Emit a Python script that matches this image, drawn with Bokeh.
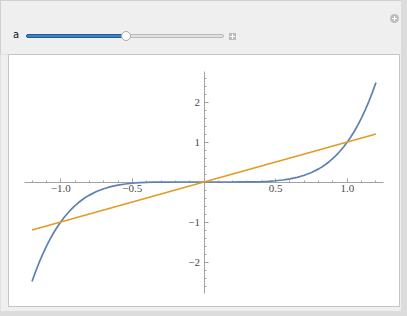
from bokeh.plotting import figure
from bokeh.models import FixedTicker, Div, Range1d, LinearAxis
from bokeh.layouts import column
from bokeh.embed import file_html
from bokeh.resources import INLINE

# ---- data ----
curve_x = [-1.2, -1.175, -1.15, -1.125, -1.1, -1.075, -1.05, -1.025, -1.0, -0.975, -0.95, -0.925,
           -0.9, -0.875, -0.85, -0.825, -0.8, -0.75, -0.7, -0.65, -0.6, -0.55, -0.5, -0.45,
           -0.4, -0.35, -0.3, -0.25, -0.2, -0.1, 0.0, 0.1, 0.2, 0.25, 0.3, 0.35, 0.4, 0.45,
           0.5, 0.55, 0.6, 0.65, 0.7, 0.75, 0.8, 0.825, 0.85, 0.875, 0.9, 0.925, 0.95, 0.975,
           1.0, 1.025, 1.05, 1.075, 1.1, 1.125, 1.15, 1.175, 1.2]
curve_y = [-2.488, -2.240, -2.011, -1.802, -1.611, -1.436, -1.276, -1.131, -1.000, -0.881, -0.774, -0.677,
           -0.590, -0.513, -0.444, -0.382, -0.328, -0.237, -0.168, -0.116, -0.078, -0.050, -0.031, -0.018,
           -0.010, -0.005, -0.002, -0.001, 0.000, 0.000, 0.000, 0.000, 0.000, 0.001, 0.002, 0.005, 0.010, 0.018,
           0.031, 0.050, 0.078, 0.116, 0.168, 0.237, 0.328, 0.382, 0.444, 0.513, 0.590, 0.677, 0.774, 0.881,
           1.000, 1.131, 1.276, 1.436, 1.611, 1.802, 2.011, 2.240, 2.488]
line_x = [-1.2, 1.2]
line_y = [-1.2, 1.2]

x_major = [-1.0, -0.5, 0.5, 1.0]
x_labels = ["\u22121.0", "\u22120.5", "0.5", "1.0"]
x_minor = [-1.2, -1.1, -0.9, -0.8, -0.7, -0.6, -0.4, -0.3, -0.2, -0.1,
           0.1, 0.2, 0.3, 0.4, 0.6, 0.7, 0.8, 0.9, 1.1, 1.2]
y_major = [-2.0, -1.0, 1.0, 2.0]
y_labels = ["\u22122", "\u22121", "1", "2"]
y_minor = [-2.6, -2.4, -2.2, -1.8, -1.6, -1.4, -1.2, -0.8, -0.6, -0.4, -0.2,
           0.2, 0.4, 0.6, 0.8, 1.2, 1.4, 1.6, 1.8, 2.2, 2.4, 2.6]

BLUE = "#5e81b5"
ORANGE = "#e19c24"
AXIS = "#a3a3a3"
PANEL = "#efefef"

p = figure(width=401, height=257,
           x_range=Range1d(-1.364, 1.364), y_range=Range1d(-3.1125, 3.1875),
           output_backend="svg", toolbar_location=None,
           x_axis_location=None, y_axis_location=None,
           min_border_left=8, min_border_right=2, min_border_top=0, min_border_bottom=5,
           border_fill_color=PANEL, background_fill_color="white",
           outline_line_color="#c4c4c4", margin=0)
p.grid.grid_line_color = None

def style(ax, standoff):
    ax.axis_line_color = AXIS
    ax.major_tick_line_color = AXIS
    ax.minor_tick_line_color = AXIS
    ax.major_tick_out = 0
    ax.minor_tick_out = 0
    ax.major_label_text_font = "Liberation Serif"
    ax.major_label_text_font_size = "11px"
    ax.major_label_text_color = "#4a4a4a"
    ax.major_label_standoff = standoff

xa = LinearAxis(fixed_location=0, bounds=(-1.25, 1.25),
                ticker=FixedTicker(ticks=x_major, minor_ticks=x_minor))
xa.major_label_overrides = dict(zip(x_major, x_labels))
style(xa, 3)
xa.major_tick_in = 4
xa.minor_tick_in = 2
p.add_layout(xa, "below")

ya = LinearAxis(fixed_location=0, bounds=(-2.775, 2.775),
                ticker=FixedTicker(ticks=y_major, minor_ticks=y_minor))
ya.major_label_overrides = dict(zip(y_major, y_labels))
style(ya, 4)
ya.major_tick_in = 4
ya.minor_tick_in = 2
p.add_layout(ya, "left")

p.line(curve_x, curve_y, line_color=BLUE, line_width=1.7, level="annotation")
p.line(line_x, line_y, line_color=ORANGE, line_width=1.7, level="annotation")

controls = """
<div style="position:relative;width:401px;height:54px;background:#efefef;
            border-top:1px solid #d0d0d0;border-left:1px solid #d0d0d0;box-sizing:border-box;">
  <span style="position:absolute;left:12px;top:28px;font-family:'DejaVu Sans';font-size:10px;
               line-height:12px;color:#111;">a</span>
  <div style="position:absolute;left:25px;top:33px;width:198px;height:4px;box-sizing:border-box;
              background:#e2e2e2;border:1px solid #b9b9b9;border-radius:2px;"></div>
  <div style="position:absolute;left:25px;top:33px;width:100px;height:4px;box-sizing:border-box;
              background:#3f80c2;border:1px solid #1e5c9c;border-radius:2px;"></div>
  <div style="position:absolute;left:120px;top:30px;width:10px;height:10px;box-sizing:border-box;
              background:#ffffff;border:1px solid #a9a9a9;border-radius:50%;"></div>
  <div style="position:absolute;left:228px;top:32px;width:7px;height:7px;background:#bcbcbc;">
    <div style="position:absolute;left:1px;top:3px;width:5px;height:1px;background:#fff;"></div>
    <div style="position:absolute;left:3px;top:1px;width:1px;height:5px;background:#fff;"></div>
  </div>
  <div style="position:absolute;left:389px;top:13px;width:9px;height:9px;border-radius:50%;background:#bdbdbd;">
    <div style="position:absolute;left:2px;top:4px;width:5px;height:1px;background:#fff;"></div>
    <div style="position:absolute;left:4px;top:2px;width:1px;height:5px;background:#fff;"></div>
  </div>
</div>
"""
div = Div(text=controls, width=401, height=54, margin=0)

layout = column(div, p, width=407, height=316, spacing=0, margin=0,
                styles={"background-color": "#dcdcdc"})

open("out.html", "w").write(file_html(layout, INLINE))
